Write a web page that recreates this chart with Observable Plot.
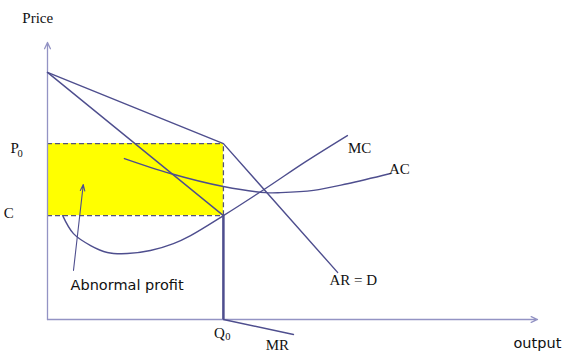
<!DOCTYPE html>
<html>
<head>
<meta charset="utf-8">
<script src="https://cdn.jsdelivr.net/npm/d3@7"></script>
<script src="https://cdn.jsdelivr.net/npm/@observablehq/plot@0.6"></script>
<style>
  html, body { margin: 0; padding: 0; background: #fff; }
  #chart svg { overflow: visible; }
</style>
</head>
<body>
<div id="chart"></div>
<script>
// Key levels (abstract units: quantity 0–100, price 0–100)
const Q0 = 35.9, P0 = 63.5, C = 37.5;

// Kinked demand (AR = D)
const arQ = [0, 35.9, 59.2];
const arP = [89.2, 63.5, 17.0];

// Marginal revenue (with vertical discontinuity at Q0)
const mrQ = [0, 35.9, 35.9, 50.2];
const mrP = [89.2, 37.5, 0, -5.4];

// Marginal cost
const mcQ = [3.1, 5.3, 8.8, 12.2, 16.3, 21.0, 25.7, 29.2, 35.9, 44.5, 52.7, 61.2];
const mcP = [37.5, 31.0, 26.7, 24.2, 23.8, 24.9, 27.4, 30.3, 37.5, 47.3, 57.0, 66.4];

// Average cost
const acQ = [15.7, 25.1, 35.9, 44.5, 47.6, 54.3, 61.2, 70.0];
const acP = [58.1, 52.7, 48.0, 45.8, 45.8, 46.6, 49.0, 52.7];

// Labels
const serifLabels = ["Price", "P", "C", "Q", "MR", "MC", "AC", "AR = D"];
const serifX = [-2.0, -6.7, -7.9, 35.1, 46.9, 63.7, 71.8, 62.4];
const serifY = [108.7, 61.7, 38.3, -4.8, -9.4, 61.7, 54.2, 14.1];
const serifAnchor = ["middle", "middle", "start", "middle", "start", "start", "start", "start"];

const subLabels = ["0", "0"];
const subX = [-5.6, 36.8];
const subY = [59.9, -6.1];

const sansLabels = ["Abnormal profit", "output"];
const sansX = [4.7, 95.1];
const sansY = [12.3, -8.7];

const zip = (q, p) => q.map((d, i) => ({q: d, p: p[i]}));
const ar = zip(arQ, arP), mr = zip(mrQ, mrP), mc = zip(mcQ, mcP), ac = zip(acQ, acP);
const serif = serifLabels.map((t, i) => ({t, x: serifX[i], y: serifY[i], a: serifAnchor[i]}));
const subs = subLabels.map((t, i) => ({t, x: subX[i], y: subY[i]}));
const sans = sansLabels.map((t, i) => ({t, x: sansX[i], y: sansY[i]}));

const curveColor = "#4e4e8e";
const axisColor = "#9393c4";
const serifFont = "Liberation Serif, DejaVu Serif, serif";

const chart = Plot.plot({
  width: 565,
  height: 352,
  marginLeft: 47,
  marginRight: 28,
  marginTop: 42,
  marginBottom: 33,
  x: {domain: [0, 100], axis: null},
  y: {domain: [0, 100], axis: null},
  marks: [
    Plot.rect([{x1: 0, x2: Q0, y1: C, y2: P0}], {x1: "x1", x2: "x2", y1: "y1", y2: "y2", fill: "#ffff00"}),
    Plot.ruleY([P0, C], {x1: 0, x2: Q0, stroke: "#55557a", strokeWidth: 1.3, strokeDasharray: "5,3"}),
    Plot.ruleX([Q0], {y1: C, y2: P0, stroke: "#55557a", strokeWidth: 1.3, strokeDasharray: "5,3"}),
    // axes
    Plot.arrow([{x1: 0, y1: 0, x2: 100, y2: 0}, {x1: 0, y1: 0, x2: 0, y2: 100}],
      {x1: "x1", y1: "y1", x2: "x2", y2: "y2", stroke: axisColor, strokeWidth: 1.3, headLength: 8, headAngle: 50}),
    // Q0 thick line
    Plot.ruleX([Q0], {y1: 0, y2: C, stroke: curveColor, strokeWidth: 2.4}),
    Plot.line(ar, {x: "q", y: "p", stroke: curveColor, strokeWidth: 1.4}),
    Plot.line(mr, {x: "q", y: "p", stroke: curveColor, strokeWidth: 1.4}),
    Plot.line(mc, {x: "q", y: "p", stroke: curveColor, strokeWidth: 1.4, curve: "catmull-rom"}),
    Plot.line(ac, {x: "q", y: "p", stroke: curveColor, strokeWidth: 1.4, curve: "catmull-rom"}),
    // Abnormal profit pointer
    Plot.arrow([{x1: 5.3, y1: 17.7, x2: 7.3, y2: 48.7}],
      {x1: "x1", y1: "y1", x2: "x2", y2: "y2", stroke: curveColor, strokeWidth: 1.1, headLength: 9, headAngle: 40}),
    Plot.text(serif, {x: "x", y: "y", text: "t", textAnchor: d => d.a, fontFamily: serifFont, fontSize: 15, fill: "#111"}),
    Plot.text(subs, {x: "x", y: "y", text: "t", textAnchor: "middle", fontFamily: serifFont, fontSize: 10.5, fill: "#111"}),
    Plot.text(sans, {x: "x", y: "y", text: "t", textAnchor: "start", fontFamily: "DejaVu Sans, sans-serif", fontSize: 14.5, fill: "#111"})
  ]
});
document.getElementById("chart").appendChild(chart);
</script>
</body>
</html>
